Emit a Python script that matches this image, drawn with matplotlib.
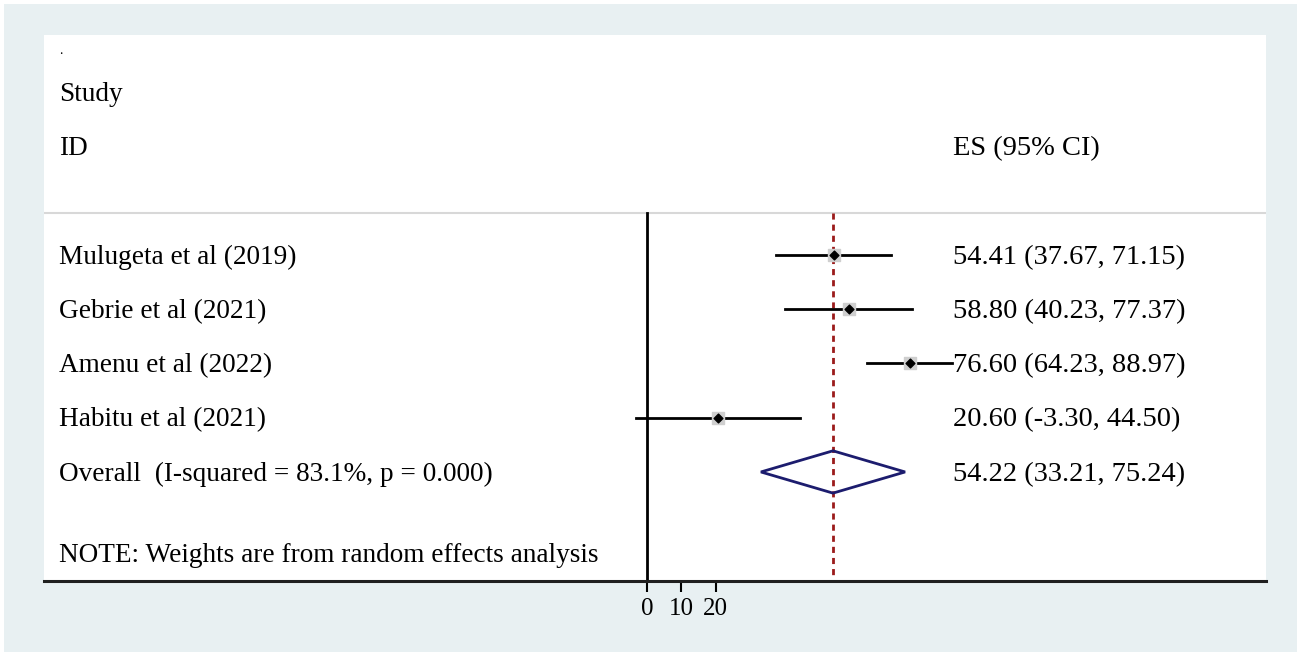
import numpy as np
import matplotlib.pyplot as plt
import matplotlib.transforms as mtransforms
from matplotlib.patches import Rectangle, Polygon

plt.rcParams['font.family'] = ['Liberation Serif', 'DejaVu Serif']

# ================================
# DATA
# ================================
studies = ["Mulugeta et al (2019)", "Gebrie et al (2021)",
           "Amenu et al (2022)", "Habitu et al (2021)"]
es = [54.41, 58.80, 76.60, 20.60]
lo = [37.67, 40.23, 64.23, -3.30]
hi = [71.15, 77.37, 88.97, 44.50]

overall_label = "Overall  (I-squared = 83.1%, p = 0.000)"
overall_es, overall_lo, overall_hi = 54.22, 33.21, 75.24

xticks = [0, 10, 20]

# ================================
# FIGURE
# ================================
W, H = 1302, 657
fig = plt.figure(figsize=(W / 100, H / 100), dpi=100)
fig.patch.set_facecolor("white")
# graph region (light blue), drawn behind the axes
fig.patches.append(Rectangle((4 / W, 1 - 652 / H), (1297 - 4) / W, (652 - 4) / H,
                             transform=fig.transFigure, facecolor="#e8f0f2",
                             edgecolor="none", zorder=-5))

ax = fig.add_axes([44 / W, 1 - 581 / H, (1266 - 44) / W, (581 - 35) / H])
ax.set_facecolor("white")
ax.set_xlim((44 - 647) / 3.43, (1266 - 647) / 3.43)
ax.set_ylim(6.01, -4.055)

for s in ["top", "left", "right"]:
    ax.spines[s].set_visible(False)
ax.spines["bottom"].set_linewidth(2.2)
ax.spines["bottom"].set_color("#202020")
ax.set_yticks([])
ax.set_xticks(xticks)
ax.set_xticklabels([str(t) for t in xticks], fontsize=18)
ax.tick_params(axis="x", length=8, width=1.5, pad=4)

sep_y = -0.77
# separator
ax.axhline(sep_y, color="#d8d8d8", lw=1.5, zorder=1)
# null line and overall line
ax.plot([0, 0], [sep_y, 6.01], color="black", lw=2, zorder=2, clip_on=False)
ax.plot([overall_es, overall_es], [sep_y, 6.01], color="#9b1b1b", lw=2,
        ls=(0, (2.2, 1.8)), zorder=2)

rows = np.arange(len(studies))
for y, e, l, h in zip(rows, es, lo, hi):
    ax.plot([l, h], [y, y], color="black", lw=2, zorder=3)
ax.scatter(es, rows, marker="s", s=85, color="#cfcfcf", zorder=4)
ax.scatter(es, rows, marker="D", s=20, color="black", zorder=5)

oy = len(studies)
dia = Polygon([[overall_lo, oy], [overall_es, oy - 0.39],
               [overall_hi, oy], [overall_es, oy + 0.39]],
              closed=True, fill=False, edgecolor="#1c1c6e", lw=2, zorder=5)
ax.add_patch(dia)

# ================================
# TEXT
# ================================
trans = mtransforms.blended_transform_factory(ax.transAxes, ax.transData)
xl = (59 - 44) / 1222
xr = (953 - 44) / 1222
fs_l = 19.6
fs_r = 20.5
dy = 0.04

ax.text(xl, -3.65, ".", transform=trans, fontsize=10, va="bottom")
ax.text(xl, -3.0 + dy, "Study", transform=trans, fontsize=fs_l, va="center")
ax.text(xl, -2.0 + dy, "ID", transform=trans, fontsize=fs_l, va="center")
ax.text(xr, -2.0 + dy, "ES (95% CI)", transform=trans, fontsize=fs_r, va="center")

for y, name, e, l, h in zip(rows, studies, es, lo, hi):
    ax.text(xl, y + dy, name, transform=trans, fontsize=fs_l, va="center")
    ax.text(xr, y + dy, f"{e:.2f} ({l:.2f}, {h:.2f})", transform=trans,
            fontsize=fs_r, va="center")

ax.text(xl, oy + dy, overall_label, transform=trans, fontsize=fs_l, va="center")
ax.text(xr, oy + dy, f"{overall_es:.2f} ({overall_lo:.2f}, {overall_hi:.2f})",
        transform=trans, fontsize=fs_r, va="center")
ax.text(xl, 5.5 + dy, "NOTE: Weights are from random effects analysis",
        transform=trans, fontsize=fs_l, va="center")

fig.savefig("out.png", dpi=100)
